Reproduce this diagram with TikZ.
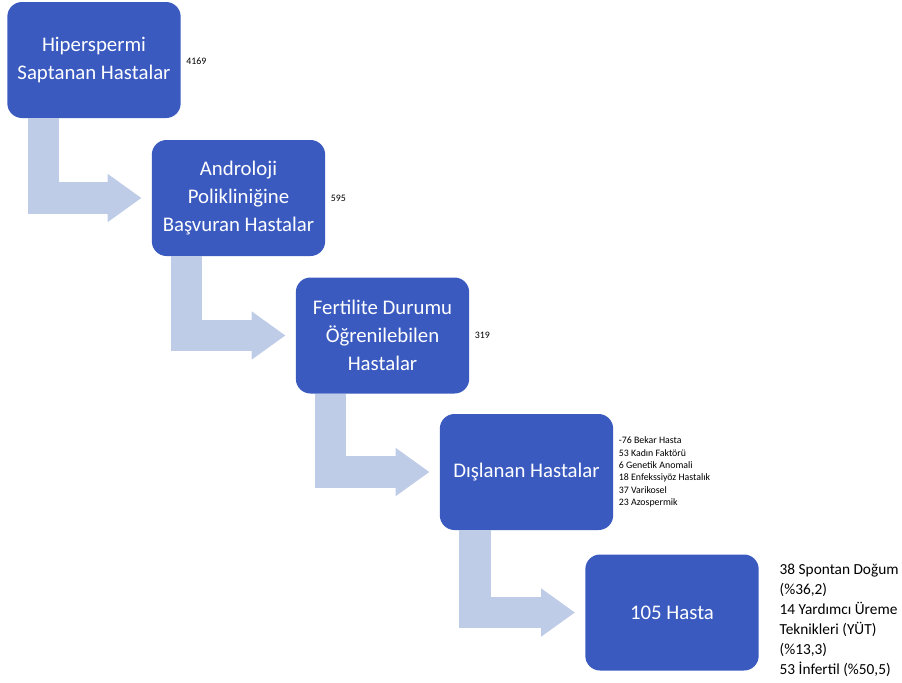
\documentclass[tikz,border=0pt]{standalone}
\usepackage{fontspec}
\setmainfont{Carlito}
\usetikzlibrary{arrows.meta,positioning}
\definecolor{boxblue}{RGB}{58,90,192}
\definecolor{flowblue}{RGB}{190,204,232}
\tikzset{
  stepbox/.style={draw=none, fill=boxblue, rounded corners=11pt, text=white,
    minimum width=130pt, minimum height=87pt, align=center,
    font=\fontsize{15.6}{21}\selectfont},
  flow/.style={draw=flowblue, line width=23.5pt, line join=miter,
    -{Triangle[length=25.5pt,width=34.5pt]}, shorten >=7.5pt},
  countlbl/.style={anchor=west, font=\fontsize{7.4}{9.2}\selectfont, align=left},
  outlbl/.style={anchor=west, font=\fontsize{11.5}{15}\selectfont, align=left}
}
\begin{document}
\begin{tikzpicture}[x=0.75pt, y=-0.75pt]
  \useasboundingbox (0,0) rectangle (902,682);
  \node[stepbox] (hiper) at (94,60) {Hiperspermi\\Saptanan Hastalar};
  \node[stepbox] (andro) at (238.5,198) {Androloji\\Polikliniğine\\Başvuran Hastalar};
  \node[stepbox] (fert) at (382.5,335.5) {Fertilite Durumu\\Öğrenilebilen\\Hastalar};
  \node[stepbox] (disl) at (526.5,472) {Dışlanan Hastalar};
  \node[stepbox] (hasta) at (672,612.5) {105 Hasta};

  % bent arrows between the steps
  \draw[flow] ([xshift=27.5pt]hiper.south west) |- (andro.west);
  \draw[flow] ([xshift=26pt]andro.south west) |- (fert.west);
  \draw[flow] ([xshift=26pt]fert.south west) |- (disl.west);
  \draw[flow] ([xshift=26.5pt]disl.south west) |- (hasta.west);

  \node[countlbl] (n1) at ([xshift=0.5pt,yshift=-1pt]hiper.east) {4169};
  \node[countlbl] (n2) at ([xshift=0.5pt]andro.east) {595};
  \node[countlbl] (n3) at ([xshift=0.5pt]fert.east) {319};
  \node[countlbl] (n4) at ([xshift=0.5pt]disl.east)
    {-76 Bekar Hasta\\53 Kadın Faktörü\\6 Genetik Anomali\\18 Enfekssiyöz Hastalık\\37 Varikosel\\23 Azospermik};
  \node[outlbl] (n5) at ([xshift=12pt,yshift=-5.5pt]hasta.east)
    {38 Spontan Doğum\\(\%36,2)\\14 Yardımcı Üreme\\Teknikleri (YÜT)\\(\%13,3)\\53 İnfertil (\%50,5)};
\end{tikzpicture}
\end{document}
